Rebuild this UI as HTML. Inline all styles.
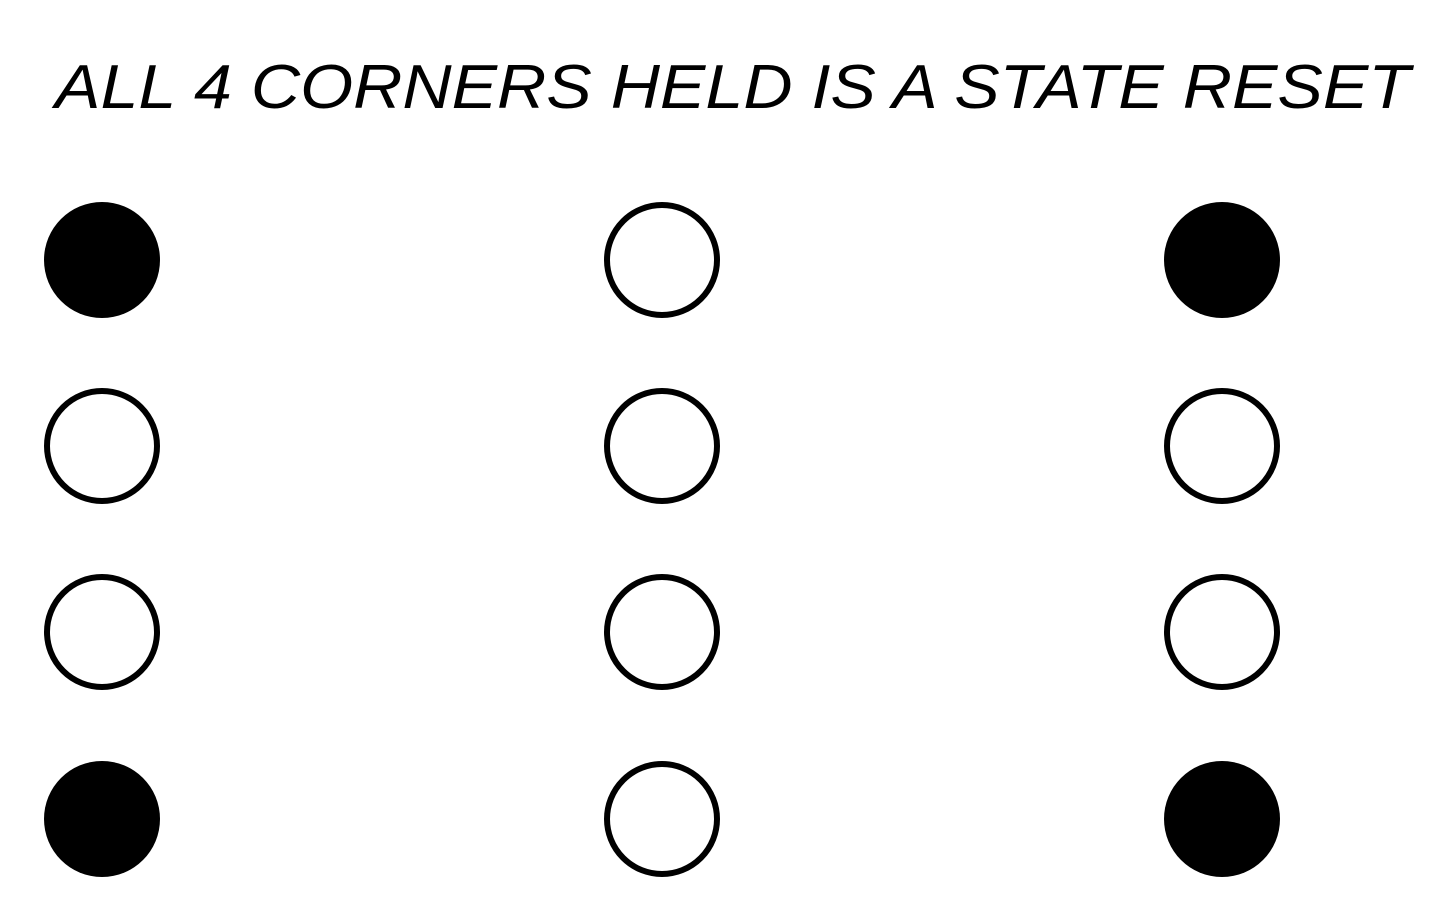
<!DOCTYPE html>
<html><head><meta charset="utf-8"><style>
html,body{margin:0;padding:0;background:#fff;}
svg{display:block;}
</style></head><body>
<svg width="1437" height="907" viewBox="0 0 1437 907">
<rect width="1437" height="907" fill="#fff"/>
<text x="55" y="108" font-family="Liberation Sans, sans-serif" font-style="italic" font-size="62" font-weight="normal" fill="#000" textLength="1355" lengthAdjust="spacingAndGlyphs">ALL 4 CORNERS HELD IS A STATE RESET</text>
<g id="dots"></g>
</svg>
<script>
const columns = [102, 662, 1222];
const rows = [260, 446, 632, 819];
const held = [
  [1, 0, 1],
  [0, 0, 0],
  [0, 0, 0],
  [1, 0, 1]
];
const g = document.getElementById('dots');
const ns = 'http://www.w3.org/2000/svg';
rows.forEach((cy, r) => {
  columns.forEach((cx, c) => {
    const el = document.createElementNS(ns, 'circle');
    const on = held[r][c] === 1;
    el.setAttribute('cx', cx);
    el.setAttribute('cy', cy);
    el.setAttribute('r', on ? 58 : 55);
    el.setAttribute('fill', on ? '#000' : '#fff');
    el.setAttribute('stroke', '#000');
    el.setAttribute('stroke-width', on ? 0 : 6);
    
    
    g.appendChild(el);
  });
});
</script>
</body></html>
